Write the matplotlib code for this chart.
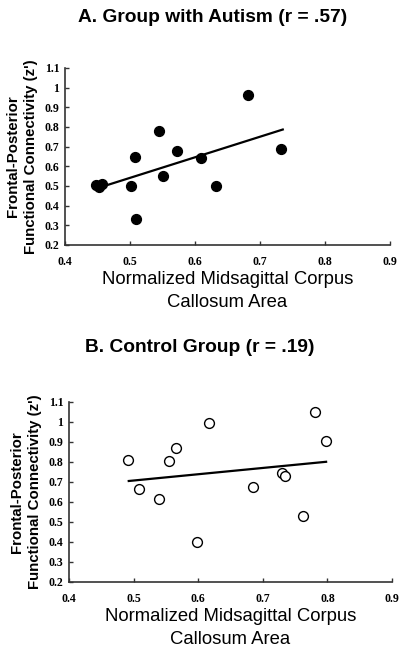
import numpy as np
import matplotlib.pyplot as plt

# Group with autism (filled points)
aut_x = [0.447, 0.452, 0.457, 0.501, 0.508, 0.509, 0.545, 0.551, 0.573, 0.609, 0.633, 0.682, 0.732]
aut_y = [0.503, 0.496, 0.508, 0.498, 0.648, 0.330, 0.781, 0.550, 0.679, 0.644, 0.498, 0.961, 0.690]
aut_fit_x = [0.451, 0.735]
aut_fit_y = [0.490, 0.787]

# Control group (open points)
ctl_x = [0.4915, 0.508, 0.539, 0.555, 0.565, 0.598, 0.617, 0.685, 0.730, 0.734, 0.763, 0.781, 0.798]
ctl_y = [0.811, 0.663, 0.615, 0.806, 0.869, 0.398, 0.994, 0.673, 0.743, 0.732, 0.531, 1.052, 0.904]
ctl_fit_x = [0.4925, 0.798]
ctl_fit_y = [0.705, 0.801]

xticks = [0.4, 0.5, 0.6, 0.7, 0.8, 0.9]
yticks = [0.2, 0.3, 0.4, 0.5, 0.6, 0.7, 0.8, 0.9, 1.0, 1.1]
xtick_labels = ['0.4', '0.5', '0.6', '0.7', '0.8', '0.9']
ytick_labels = ['0.2', '0.3', '0.4', '0.5', '0.6', '0.7', '0.8', '0.9', '1', '1.1']

sans = 'Liberation Sans'
serif = 'Liberation Serif'

fig = plt.figure(figsize=(4.03, 6.51), dpi=100)


def panel(rect, x, y, fx, fy, filled, title, title_y, title_x):
    ax = fig.add_axes(rect)
    if filled:
        ax.scatter(x, y, s=50, c='black', edgecolors='black', zorder=3)
    else:
        ax.scatter(x, y, s=50, facecolors='white', edgecolors='black', linewidths=1.0, zorder=3)
    ax.plot(fx, fy, color='black', linewidth=1.6, zorder=2)
    ax.set_xlim(0.4, 0.9)
    ax.set_ylim(0.2, 1.1)
    ax.set_xticks(xticks)
    ax.set_xticklabels(xtick_labels, family=serif, fontweight='bold', fontsize=8.5)
    ax.set_yticks(yticks)
    ax.set_yticklabels(ytick_labels, family=serif, fontweight='bold', fontsize=8.5)
    ax.tick_params(direction='in', length=3, width=1, pad=4, color='#333333')
    ax.tick_params(axis='x', pad=8)
    for s in ['top', 'right']:
        ax.spines[s].set_visible(False)
    for s in ['left', 'bottom']:
        ax.spines[s].set_color('#333333')
        ax.spines[s].set_linewidth(1.2)
    ax.set_xlabel('Normalized Midsagittal Corpus\nCallosum Area', family=sans,
                  fontsize=13.3, linespacing=1.45, labelpad=2)
    ax.set_ylabel('Frontal-Posterior\nFunctional Connectivity (z\')', family=sans,
                  fontsize=10.8, fontweight='bold', linespacing=1.3, labelpad=5)
    fig.text(title_x, title_y, title, family=sans, fontsize=13.8, fontweight='bold',
             ha='center', va='center')
    return ax


panel([0.1613, 0.6237, 0.8065, 0.2719], aut_x, aut_y, aut_fit_x, aut_fit_y, True,
      'A. Group with Autism (r = .57)', 1 - 18 / 651, 213 / 403)
panel([0.1712, 0.1060, 0.8015, 0.2765], ctl_x, ctl_y, ctl_fit_x, ctl_fit_y, False,
      'B. Control Group (r = .19)', 1 - 348 / 651, 200 / 403)

fig.savefig('out.png', dpi=100)
